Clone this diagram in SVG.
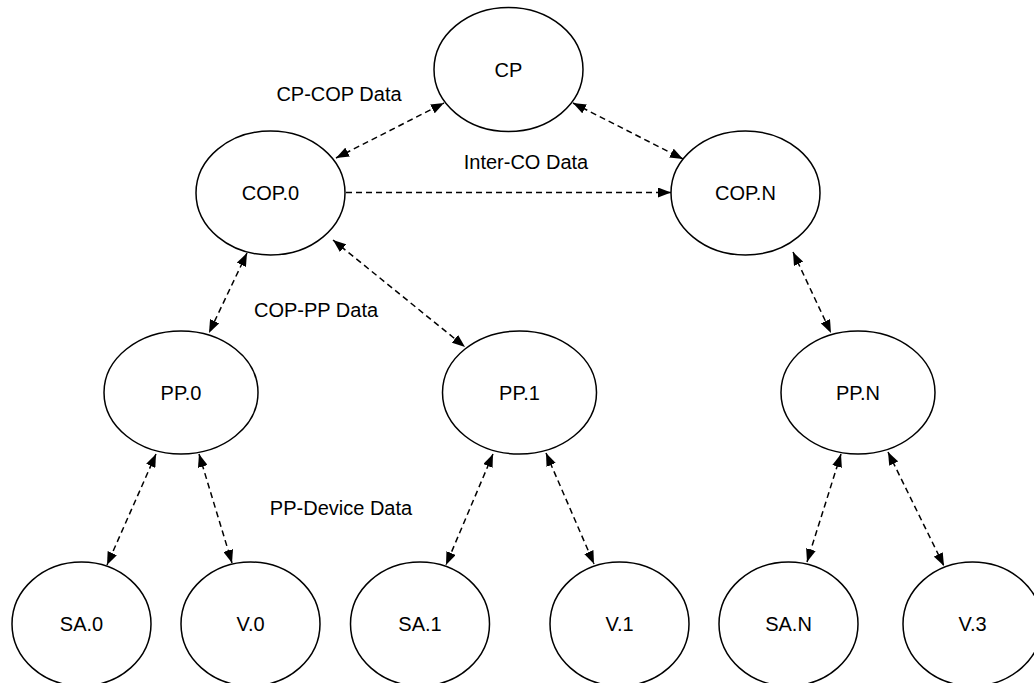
<svg xmlns="http://www.w3.org/2000/svg" width="1034" height="683" viewBox="0 0 1034 683">
<defs>
<marker id="arr" viewBox="0 0 13 10" refX="13" refY="5" markerWidth="13" markerHeight="10" markerUnits="userSpaceOnUse" orient="auto-start-reverse">
<path d="M0,0 L13,5 L0,10 z" fill="#000"/>
</marker>
<style>
.node ellipse{fill:#fff;stroke:#000;stroke-width:1.5}
text{font-family:"Liberation Sans",Arial,sans-serif;font-size:20px;fill:#000;text-anchor:middle}
.lbl{font-size:20px}
.edge{stroke:#000;stroke-width:1.5;stroke-dasharray:6 4;fill:none;marker-start:url(#arr);marker-end:url(#arr)}
.one{marker-start:none}
</style>
</defs>
<rect width="1034" height="683" fill="#fff"/>
<g id="connectors">
<line class="edge" x1="336" y1="158" x2="444" y2="103"/>
<line class="edge" x1="573" y1="103" x2="683" y2="159"/>
<line class="edge one" x1="346" y1="192.5" x2="671" y2="192.5"/>
<line class="edge" x1="247" y1="253" x2="209" y2="333"/>
<line class="edge" x1="333" y1="240" x2="465" y2="347"/>
<line class="edge" x1="793" y1="252" x2="831" y2="333"/>
<line class="edge" x1="156" y1="454" x2="107" y2="565"/>
<line class="edge" x1="199" y1="454" x2="232" y2="563"/>
<line class="edge" x1="493" y1="454" x2="446" y2="565"/>
<line class="edge" x1="546" y1="453" x2="594" y2="564"/>
<line class="edge" x1="841" y1="454" x2="807" y2="562"/>
<line class="edge" x1="888" y1="452" x2="944" y2="566"/>
</g>
<g id="labels">
<text class="lbl" x="339" y="101">CP-COP Data</text>
<text class="lbl" x="526" y="169">Inter-CO Data</text>
<text class="lbl" x="316" y="317">COP-PP Data</text>
<text class="lbl" x="341" y="515">PP-Device Data</text>
</g>
<g id="CP" class="node"><ellipse cx="508.5" cy="69.5" rx="74.5" ry="62"/><text x="508.5" y="77">CP</text></g>
<g id="COP0" class="node"><ellipse cx="270.5" cy="193" rx="74.5" ry="62"/><text x="270.5" y="200">COP.0</text></g>
<g id="COPN" class="node"><ellipse cx="745.5" cy="193" rx="74.5" ry="62"/><text x="745.5" y="200">COP.N</text></g>
<g id="PP0" class="node"><ellipse cx="181" cy="392.5" rx="77" ry="61.5"/><text x="181" y="400">PP.0</text></g>
<g id="PP1" class="node"><ellipse cx="519.5" cy="392.5" rx="77" ry="61.5"/><text x="519.5" y="400">PP.1</text></g>
<g id="PPN" class="node"><ellipse cx="858" cy="392.5" rx="77" ry="61.5"/><text x="858" y="400">PP.N</text></g>
<g id="SA0" class="node"><ellipse cx="81.5" cy="624" rx="69.5" ry="62"/><text x="81.5" y="631">SA.0</text></g>
<g id="V0" class="node"><ellipse cx="250.5" cy="624" rx="69.5" ry="62"/><text x="250.5" y="631">V.0</text></g>
<g id="SA1" class="node"><ellipse cx="420" cy="624" rx="69.5" ry="62"/><text x="420" y="631">SA.1</text></g>
<g id="V1" class="node"><ellipse cx="619.5" cy="624" rx="69.5" ry="62"/><text x="619.5" y="631">V.1</text></g>
<g id="SAN" class="node"><ellipse cx="788.5" cy="624" rx="69.5" ry="62"/><text x="788.5" y="631">SA.N</text></g>
<g id="V3" class="node"><ellipse cx="972.5" cy="624" rx="69.5" ry="62"/><text x="972.5" y="631">V.3</text></g>
</svg>
